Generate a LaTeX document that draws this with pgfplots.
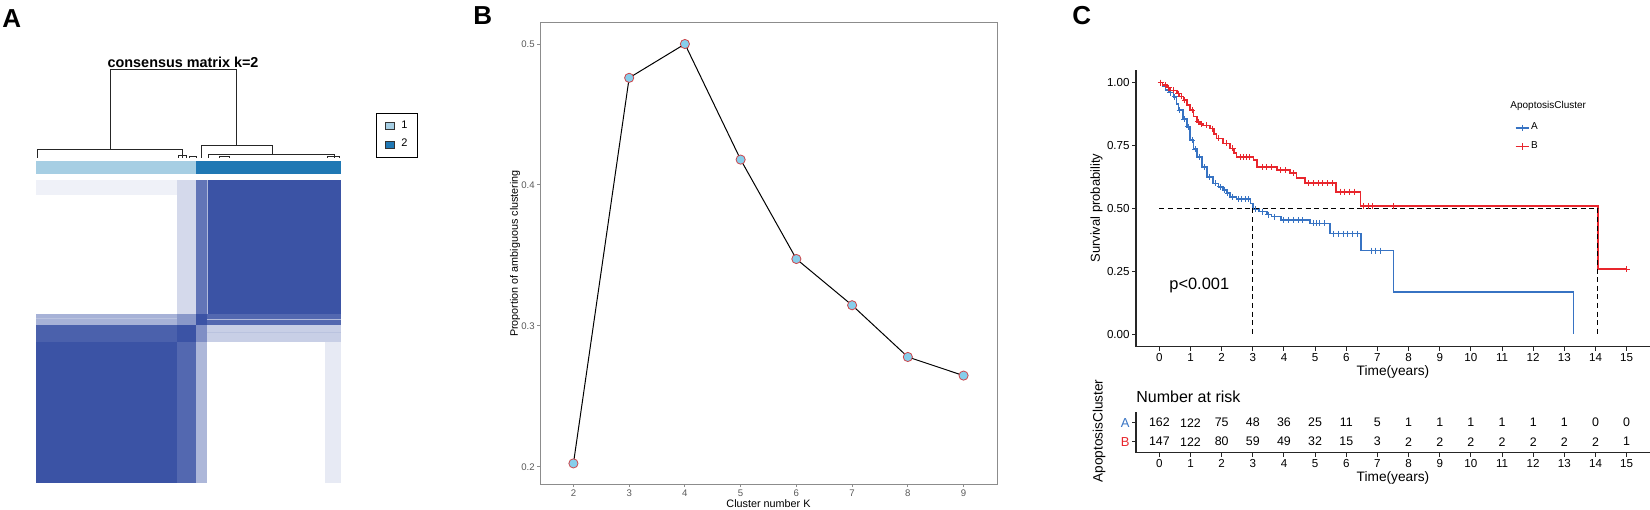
\documentclass[border=0pt]{standalone}
\usepackage{fontspec}
\setmainfont{Liberation Sans}
\usepackage{pgfplots}
\pgfplotsset{compat=1.18}
\pgfplotsset{/pgf/number format/assume math mode=true}

\definecolor{heat}{RGB}{59,83,165}
\definecolor{clA}{RGB}{166,206,227}
\definecolor{clB}{RGB}{31,120,180}
\definecolor{ptfill}{RGB}{135,206,235}
\definecolor{ptedge}{RGB}{205,70,75}
\definecolor{kmblue}{RGB}{55,115,195}
\definecolor{kmred}{RGB}{232,38,45}

\pgfplotsset{
  sqlegend/.style={legend image code/.code={\draw[##1] (0pt,-1.8pt) rectangle (4.5pt,1.8pt);}},
  kmlegend/.style={legend image code/.code={\draw[mark repeat=2, mark phase=2, ##1] plot coordinates {(0pt,0pt) (3.25pt,0pt) (6.5pt,0pt)};}},
}

\newcommand\fs[1]{\fontsize{#1}{#1}\selectfont}
% one block of the consensus matrix: x1 x2 y1 y2 colour
\newcommand\cell[5]{\addplot[fill=#5, draw=none, forget plot] coordinates {(#1,#3) (#2,#3) (#2,#4) (#1,#4)} -- cycle;}

\begin{document}
\begin{tikzpicture}
\path[use as bounding box] (0pt,0pt) rectangle (825pt,254.5pt);

\node[anchor=base west, font=\fs{13}\bfseries, inner sep=0] at (1pt,240.5pt) {A};
\node[anchor=base west, font=\fs{13}\bfseries, inner sep=0] at (236.5pt,242pt) {B};
\node[anchor=base west, font=\fs{13}\bfseries, inner sep=0] at (536pt,242pt) {C};

% ---------------- A: consensus matrix ----------------
\begin{axis}[
    at={(18pt,13pt)}, anchor=south west,
    scale only axis, width=152.5pt, height=212.8pt,
    xmin=0, xmax=309, ymin=-125, ymax=309,
    y dir=reverse, hide axis, clip=false,
    legend style={at={(rel axis cs:1.1148,0.8705)}, anchor=north west,
        draw=black, line width=0.5pt, font=\fs{5.5},
        inner xsep=4pt, inner ysep=3pt, row sep=1.8pt, column sep=2.5pt,
        nodes={inner sep=1pt}},
    legend cell align=left,
]
\cell{0}{143}{0}{15}{heat!8}
\cell{143}{162}{0}{137}{heat!22}
\cell{162}{173}{0}{137}{heat!80}
\cell{173}{309}{0}{137}{heat}
\cell{0}{143}{137}{148}{heat!45}
\cell{143}{162}{137}{148}{heat!60}
\cell{162}{173}{137}{148}{heat}
\cell{173}{309}{137}{148}{heat!88}
\cell{0}{143}{148}{165}{heat!92}
\cell{143}{162}{148}{165}{heat}
\cell{162}{173}{148}{165}{heat!65}
\cell{173}{309}{148}{165}{heat!28}
\cell{0}{143}{165}{309}{heat}
\cell{143}{162}{165}{309}{heat!88}
\cell{162}{173}{165}{309}{heat!42}
\cell{293}{309}{165}{309}{heat!12}
% a few lighter lines inside the blocks
\addplot[white!60!heat, line width=0.3pt, forget plot] coordinates {(173.5,0) (173.5,137)};
\addplot[white!60!heat, line width=0.3pt, forget plot] coordinates {(173,142.5) (309,142.5)};
\addplot[heat!35, line width=0.3pt, forget plot] coordinates {(0,141) (143,141)};
\addplot[heat!35, line width=0.3pt, forget plot] coordinates {(173,155) (309,155)};
% annotation bar
\cell{0}{162}{-19.4}{-6.1}{clA}
\cell{162}{309}{-19.4}{-6.1}{clB}
% dendrogram
\addplot[black!85, line width=0.45pt, forget plot] coordinates {(1,-22.9) (1,-31.6) (147.9,-31.6) (147.9,-22.9)};
\addplot[black!85, line width=0.45pt, forget plot] coordinates {(75,-31.6) (75,-113.2) (202.6,-113.2) (202.6,-35.7)};
\addplot[black!85, line width=0.45pt, forget plot] coordinates {(167.2,-22.9) (167.2,-35.7) (239.1,-35.7) (239.1,-26.5)};
\addplot[black!85, line width=0.45pt, forget plot] coordinates {(174.3,-22.9) (174.3,-26.5) (301.9,-26.5) (301.9,-22.9)};
\addplot[black!85, line width=0.45pt, forget plot] coordinates {(144,-22.9) (144,-25) (152,-25) (152,-22.9)};
\addplot[black!85, line width=0.45pt, forget plot] coordinates {(155,-22.9) (155,-24.2) (163,-24.2) (163,-22.9)};
\addplot[black!85, line width=0.45pt, forget plot] coordinates {(186,-22.9) (186,-24.5) (196,-24.5) (196,-22.9)};
\addplot[black!85, line width=0.45pt, forget plot] coordinates {(295,-22.9) (295,-24.3) (307,-24.3) (307,-22.9)};
\node[anchor=base, font=\fs{7.2}\bfseries, inner sep=0] at (axis cs:149,-114.8) {consensus matrix k=2};
\addlegendimage{sqlegend, fill=clA, draw=black!80, line width=0.4pt}
\addlegendentry{1}
\addlegendimage{sqlegend, fill=clB, draw=black!80, line width=0.4pt}
\addlegendentry{2}
\end{axis}

% ---------------- B: ambiguous clustering ----------------
\begin{axis}[
    at={(270pt,12.5pt)}, anchor=south west,
    scale only axis, width=228.5pt, height=230.5pt,
    xmin=1.4, xmax=9.6, ymin=0.1879, ymax=0.5149,
    xtick={2,...,9}, ytick={0.2,0.3,0.4,0.5},
    tick align=outside, tick pos=left, major tick length=1.5pt,
    axis line style={black!45, line width=0.5pt},
    tick style={black!45, line width=0.5pt},
    ticklabel style={font=\fs{4.8}, text=black!65},
    xticklabel style={inner sep=1.2pt},
    yticklabel style={inner sep=1pt},
    xlabel={Cluster number K},
    ylabel={Proportion of ambiguous clustering},
    label style={font=\fs{5.4}},
    xlabel style={at={(axis description cs:0.5,-0.0434)}, anchor=center},
    ylabel style={at={(axis description cs:-0.0547,0.5)}, anchor=center},
]
\addplot[black, line width=0.5pt, mark=*, mark size=2.3pt,
    mark options={fill=ptfill, draw=ptedge, line width=0.4pt}]
    coordinates {(2,0.2025) (3,0.476) (4,0.5) (5,0.418) (6,0.3475) (7,0.3147) (8,0.278) (9,0.2648)};
\end{axis}

% ---------------- C: Kaplan-Meier ----------------
\begin{axis}[
    at={(568pt,81.15pt)}, anchor=south west,
    scale only axis, width=257pt, height=138.35pt,
    xmin=-0.75, xmax=15.75, ymin=-0.05, ymax=1.05,
    axis x line*=bottom, axis y line*=left,
    axis line style={-, black!85, line width=0.7pt},
    tick style={black!85, line width=0.5pt},
    tick align=outside, major tick length=2pt,
    xtick={0,...,15}, ytick={0,0.25,0.5,0.75,1},
    ticklabel style={font=\fs{5.8}},
    xticklabel style={inner sep=1pt},
    yticklabel style={/pgf/number format/fixed, /pgf/number format/fixed zerofill, /pgf/number format/precision=2, inner sep=1pt},
    xlabel={Time(years)}, ylabel={Survival probability},
    xlabel style={font=\fs{6.85}, at={(axis description cs:0.5,-0.0904)}, anchor=center},
    ylabel style={font=\fs{6.5}, at={(axis description cs:-0.0768,0.501)}, anchor=center},
    clip=false,
    legend style={at={(rel axis cs:0.7245,0.83)}, anchor=north west,
        draw=none, fill=none, font=\fs{5}, row sep=2.8pt,
        nodes={inner sep=0.8pt}},
    legend cell align=left,
]
\addplot[const plot, kmblue, line width=0.8pt, forget plot] coordinates {
 (0,1) (0.1,0.985) (0.2,0.97) (0.3,0.96) (0.45,0.943) (0.55,0.915) (0.61,0.89)
 (0.75,0.855) (0.88,0.824) (0.985,0.771) (1.1,0.735) (1.2,0.705) (1.36,0.665)
 (1.52,0.625) (1.73,0.599) (1.9,0.585) (2.05,0.573) (2.15,0.56) (2.27,0.546)
 (2.48,0.536) (2.93,0.52) (3.0,0.497) (3.2,0.487) (3.45,0.475) (3.6,0.467)
 (3.91,0.454) (4.83,0.44) (5.47,0.40) (6.48,0.332) (7.51,0.167) (13.3,0)};
\addplot[const plot, kmred, line width=0.8pt, forget plot] coordinates {
 (0,1) (0.1,0.99) (0.25,0.98) (0.34,0.969) (0.56,0.956) (0.65,0.945) (0.77,0.93)
 (0.88,0.91) (0.985,0.89) (1.1,0.865) (1.2,0.844) (1.3,0.835) (1.41,0.83)
 (1.63,0.817) (1.75,0.795) (1.84,0.778) (2.05,0.758) (2.27,0.738) (2.4,0.72)
 (2.48,0.705) (3.02,0.692) (3.13,0.665) (3.77,0.652) (4.19,0.64) (4.4,0.62)
 (4.68,0.60) (5.67,0.566) (6.45,0.51) (14.08,0.258) (15.0,0.258)};
% censored observations
\addplot[only marks, mark=+, mark size=1.5pt, kmblue, mark options={line width=0.5pt}, forget plot] coordinates {
 (0.05,1) (0.35,0.96) (0.5,0.943) (0.65,0.89) (0.8,0.855) (0.93,0.824) (1.05,0.771)
 (1.15,0.735) (1.3,0.705) (1.45,0.665) (1.6,0.625) (1.8,0.599) (1.95,0.585)
 (2.1,0.573) (2.2,0.56) (2.35,0.546) (2.55,0.536) (2.65,0.536) (2.75,0.536)
 (2.85,0.536) (3.1,0.497) (3.3,0.487) (3.5,0.475) (3.7,0.467) (4.0,0.454)
 (4.15,0.454) (4.3,0.454) (4.45,0.454) (4.6,0.454) (4.95,0.44) (5.05,0.44)
 (5.15,0.44) (5.3,0.44) (5.6,0.40) (5.75,0.40) (5.9,0.40) (6.05,0.40) (6.2,0.40)
 (6.35,0.40) (6.8,0.332) (6.95,0.332) (7.1,0.332)};
\addplot[only marks, mark=+, mark size=1.5pt, kmred, mark options={line width=0.5pt}, forget plot] coordinates {
 (0.05,1) (0.2,0.99) (0.3,0.98) (0.45,0.969) (0.6,0.956) (0.7,0.945) (0.82,0.93)
 (1.05,0.89) (1.25,0.844) (1.35,0.835) (1.5,0.83) (1.7,0.817) (1.9,0.778)
 (2.15,0.758) (2.35,0.738) (2.6,0.705) (2.7,0.705) (2.8,0.705) (2.9,0.705)
 (3.3,0.665) (3.45,0.665) (3.6,0.665) (3.9,0.652) (4.05,0.652) (4.3,0.64)
 (4.8,0.60) (4.95,0.60) (5.1,0.60) (5.25,0.60) (5.4,0.60) (5.55,0.60)
 (5.8,0.566) (5.95,0.566) (6.1,0.566) (6.25,0.566) (6.55,0.51) (6.7,0.51)
 (6.85,0.51) (7.5,0.51) (15,0.258)};
% median survival
\addplot[black, dash pattern=on 2.5pt off 1.8pt, line width=0.5pt, forget plot] coordinates {(0,0.5) (14.08,0.5)};
\addplot[black, dash pattern=on 2.5pt off 1.8pt, line width=0.5pt, forget plot] coordinates {(3,0.5) (3,0)};
\addplot[black, dash pattern=on 2.5pt off 1.8pt, line width=0.5pt, forget plot] coordinates {(14.08,0.5) (14.08,0)};
\node[anchor=west, font=\fs{8.2}, inner sep=0] at (rel axis cs:0.0642,0.223) {p<0.001};
\node[anchor=west, font=\fs{5}, inner sep=0] at (rel axis cs:0.7276,0.87) {ApoptosisCluster};
\addlegendimage{kmlegend, kmblue, line width=0.8pt, mark=+, mark size=1.6pt, mark options={line width=0.5pt}}
\addlegendentry{A}
\addlegendimage{kmlegend, kmred, line width=0.8pt, mark=+, mark size=1.6pt, mark options={line width=0.5pt}}
\addlegendentry{B}
\end{axis}

% ---------------- C: number at risk ----------------
\begin{axis}[
    at={(568pt,28.15pt)}, anchor=south west,
    scale only axis, width=257pt, height=20.5pt,
    xmin=-0.75, xmax=15.75, ymin=0.42, ymax=2.58,
    axis x line*=bottom, axis y line*=left,
    axis line style={-, black!85, line width=0.7pt},
    tick style={black!85, line width=0.5pt},
    tick align=outside, major tick length=2pt,
    xtick={0,...,15}, ytick={1,2},
    yticklabels={{\color{kmred}B},{\color{kmblue}A}},
    ticklabel style={font=\fs{5.8}},
    yticklabel style={font=\fs{6.5}, inner sep=1pt},
    xticklabel style={inner sep=1pt},
    xlabel={Time(years)}, ylabel={ApoptosisCluster},
    xlabel style={font=\fs{6.85}, at={(axis description cs:0.5,-0.617)}, anchor=center},
    ylabel style={font=\fs{6.8}, at={(axis description cs:-0.072,0.529)}, anchor=center},
    clip=false,
]
\addplot[draw=none, nodes near coords, point meta=explicit symbolic,
    nodes near coords align={center},
    every node near coord/.append style={font=\fs{6.2}, text=black, inner sep=0}]
    table[meta=n] {
x y n
0 2 162
1 2 122
2 2 75
3 2 48
4 2 36
5 2 25
6 2 11
7 2 5
8 2 1
9 2 1
10 2 1
11 2 1
12 2 1
13 2 1
14 2 0
15 2 0
};
\addplot[draw=none, nodes near coords, point meta=explicit symbolic,
    nodes near coords align={center},
    every node near coord/.append style={font=\fs{6.2}, text=black, inner sep=0}]
    table[meta=n] {
x y n
0 1 147
1 1 122
2 1 80
3 1 59
4 1 49
5 1 32
6 1 15
7 1 3
8 1 2
9 1 2
10 1 2
11 1 2
12 1 2
13 1 2
14 1 2
15 1 1
};
\node[anchor=west, font=\fs{8}, inner sep=0] at (rel axis cs:0,1.359) {Number at risk};
\end{axis}
\end{tikzpicture}
\end{document}
